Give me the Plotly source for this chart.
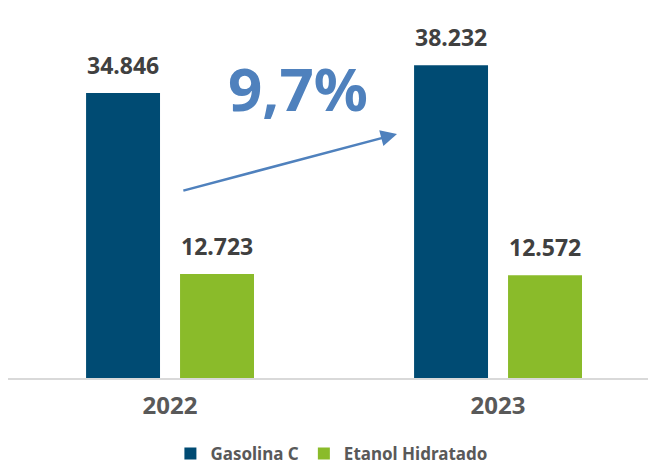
import plotly.graph_objects as go

years = ["2022", "2023"]
gasolina = [34846, 38232]
etanol = [12723, 12572]
series_names = ["Gasolina C", "Etanol Hidratado"]
growth_label = "9,7%"

c_gas = "#004B73"
c_eta = "#8ABB2A"
c_arrow = "#4F81BD"
FONT = "Noto Sans"

def fmt(v):
    return f"{v:,}".replace(",", ".")

fig = go.Figure()
fig.add_bar(x=years, y=gasolina, name=series_names[0], marker_color=c_gas,
            marker_line_width=0)
fig.add_bar(x=years, y=etanol, name=series_names[1], marker_color=c_eta,
            marker_line_width=0)

ann = []
off = 0.1433
for i, y in enumerate(years):
    for v, dx in ((gasolina[i], -off), (etanol[i], off)):
        ann.append(dict(x=i + dx, y=v, xref="x", yref="y", text=fmt(v),
                        showarrow=False, yanchor="bottom", yshift=10,
                        font=dict(family=FONT, size=23, color="#404040",
                                  weight="bold")))

# growth arrow
ann.append(dict(x=0.692, y=29832, xref="x", yref="y", ax=0.036, ay=22863,
                axref="x", ayref="y", text="", showarrow=True, arrowhead=2,
                arrowsize=1.3, arrowwidth=2.5, arrowcolor=c_arrow))

L, T, B, WID, HEI = 0, 20, 94, 656, 464
W, H = WID - L, HEI - T - B
ann.append(dict(x=(290 - L) / W, y=(HEI - B - 80) / H, xref="paper",
                yref="paper", xanchor="center", yanchor="middle",
                text=growth_label, showarrow=False,
                font=dict(family=FONT, size=60, color=c_arrow, weight="bold")))

fig.update_layout(
    width=WID, height=HEI,
    margin=dict(l=L, r=0, t=T, b=B, autoexpand=False),
    plot_bgcolor="white", paper_bgcolor="white",
    barmode="group", bargap=0.427, bargroupgap=0.213,
    showlegend=True,
    legend=dict(orientation="h", x=0.493, xanchor="center", xref="container",
                y=-0.003, yanchor="bottom", yref="container",
                font=dict(family=FONT, size=17, color="#595959", weight="bold"),
                itemwidth=30, traceorder="normal"),
    annotations=ann,
)

fig.update_xaxes(type="category", range=[-0.494, 1.506], showline=True,
                 linecolor="#D9D9D9", linewidth=2, ticks="outside",
                 ticklen=5, tickcolor="rgba(0,0,0,0)", showgrid=False,
                 tickfont=dict(family=FONT, size=24, color="#595959",
                               weight="bold"))
fig.update_yaxes(range=[0, 42793], visible=False, showgrid=False)

fig.write_html("out.html")
